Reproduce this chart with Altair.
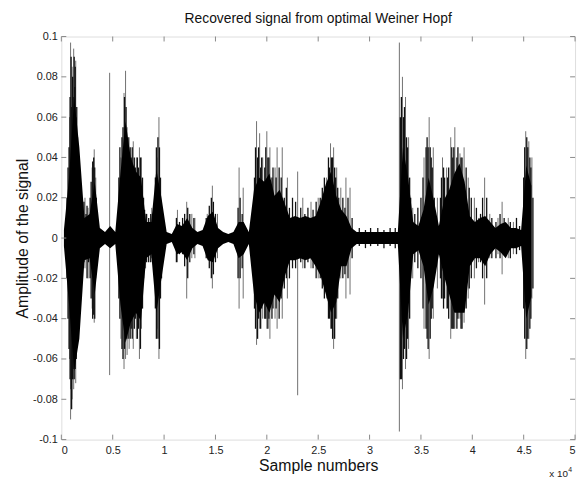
import altair as alt
import pandas as pd

# ---- data (samples, amplitude) ----
bin_start = [k * 500 for k in range(92)]
core_hi = [0.004, 0.03, 0.07, 0.045, 0.01, 0.012, 0.028, 0.005, 0.003, 0.006,
           0.003, 0.032, 0.058, 0.04, 0.033, 0.03, 0.008, 0.008, 0.034, 0.02,
           0.003, 0.002, 0.007, 0.006, 0.01, 0.005, 0.003, 0.004, 0.011, 0.013,
           0.005, 0.003, 0.002, 0.003, 0.008, 0.008, 0.003, 0.024, 0.03, 0.028,
           0.032, 0.021, 0.024, 0.017, 0.01, 0.011, 0.01, 0.011, 0.01, 0.011,
           0.018, 0.027, 0.033, 0.021, 0.014, 0.011, 0.005, 0.003, 0.003, 0.003,
           0.003, 0.003, 0.003, 0.003, 0.003, 0.003, 0.045, 0.03, 0.008, 0.006,
           0.014, 0.03, 0.019, 0.006, 0.019, 0.024, 0.032, 0.037, 0.028, 0.011,
           0.008, 0.01, 0.011, 0.008, 0.005, 0.007, 0.008, 0.005, 0.005, 0.004,
           0.036, 0.026]
core_lo = [-0.004, -0.033, -0.066, -0.05, -0.011, -0.01, -0.028, -0.005, -0.003, -0.005,
           -0.003, -0.033, -0.052, -0.042, -0.037, -0.041, -0.01, -0.008, -0.037, -0.02,
           -0.003, -0.002, -0.008, -0.007, -0.011, -0.005, -0.003, -0.004, -0.011, -0.012,
           -0.005, -0.003, -0.002, -0.003, -0.01, -0.008, -0.003, -0.028, -0.037, -0.032,
           -0.037, -0.028, -0.032, -0.019, -0.011, -0.011, -0.01, -0.011, -0.01, -0.014,
           -0.019, -0.028, -0.037, -0.032, -0.014, -0.014, -0.005, -0.003, -0.003, -0.003,
           -0.003, -0.003, -0.003, -0.003, -0.003, -0.003, -0.05, -0.037, -0.008, -0.006,
           -0.014, -0.033, -0.024, -0.008, -0.019, -0.028, -0.037, -0.037, -0.037, -0.014,
           -0.01, -0.01, -0.014, -0.008, -0.005, -0.007, -0.01, -0.005, -0.005, -0.004,
           -0.04, -0.029]

# light (grey) outer peaks
spike_x = [800, 900, 1050, 1200, 1400, 1600, 1700, 2300, 2600, 3000, 3200, 3350,
           4700, 5800, 6100, 6250, 6400, 6600, 7000, 7300, 7600, 7800, 8200, 8800,
           9300, 9500, 11300, 12200, 12700, 13000, 14200, 14700, 15200, 17300, 17700,
           19000, 19300, 19600, 20000, 20300, 20800, 21000, 21500, 22000, 23000,
           23500, 24300, 25000, 25800, 26200, 26500, 26800, 27200, 27700, 28100,
           32900, 33200, 33500, 33800, 34200, 35300, 35800, 36200, 36600, 37100,
           37500, 37900, 38300, 38800, 39200, 39600, 40200, 40600, 41200, 41700,
           42500, 42900, 43500, 44000, 45200, 45500, 45800]
spike_hi = [0.06, 0.097, 0.085, 0.094, 0.088, 0.05, 0.03, 0.02, 0.015, 0.035, 0.044, 0.03,
            0.082, 0.04, 0.072, 0.083, 0.055, 0.05, 0.048, 0.04, 0.045, 0.04, 0.012, 0.015,
            0.04, 0.06, 0.014, 0.018, 0.012, 0.01, 0.012, 0.026, 0.012, 0.035, 0.025,
            0.058, 0.052, 0.04, 0.053, 0.045, 0.035, 0.045, 0.045, 0.03, 0.033,
            0.02, 0.018, 0.02, 0.03, 0.047, 0.045, 0.035, 0.025, 0.03, 0.025,
            0.097, 0.08, 0.07, 0.05, 0.015, 0.04, 0.06, 0.045, 0.02, 0.04,
            0.035, 0.05, 0.055, 0.042, 0.045, 0.03, 0.02, 0.01, 0.03, 0.012,
            0.01, 0.018, 0.01, 0.008, 0.053, 0.048, 0.04]
spike_lo = [-0.06, -0.09, -0.08, -0.075, -0.072, -0.05, -0.04, -0.015, -0.02, -0.035, -0.042, -0.02,
            -0.068, -0.05, -0.065, -0.06, -0.058, -0.055, -0.055, -0.05, -0.06, -0.045, -0.015, -0.01,
            -0.045, -0.06, -0.012, -0.03, -0.01, -0.01, -0.01, -0.025, -0.01, -0.035, -0.03,
            -0.053, -0.045, -0.04, -0.045, -0.05, -0.04, -0.045, -0.04, -0.03, -0.078,
            -0.015, -0.015, -0.02, -0.03, -0.045, -0.055, -0.04, -0.02, -0.03, -0.028,
            -0.096, -0.075, -0.065, -0.055, -0.02, -0.045, -0.06, -0.04, -0.025, -0.03,
            -0.035, -0.05, -0.045, -0.04, -0.042, -0.03, -0.02, -0.012, -0.033, -0.01,
            -0.008, -0.018, -0.01, -0.008, -0.06, -0.05, -0.03]

# dark (black) inner peaks
dark_x = [550, 650, 750, 850, 950, 1000, 1100, 1150, 1250, 1300, 1350, 1450, 1500, 1550, 1650,
          1750, 1850, 1950, 2100, 2200, 2400, 2500, 2650, 2800, 2900, 3050, 3150, 3250, 3400,
          5600, 5700, 5900, 6000, 6150, 6300, 6500, 6700, 6800, 6900, 7100, 7200, 7400, 7500,
          7700, 7900, 8000, 8100, 8300, 8500, 8700, 9150, 9250, 9400, 9550, 9650, 9750,
          11200, 11500, 11800, 12000, 12300, 12500, 12900, 14100, 14400, 14600, 14800, 15000,
          17200, 17400, 17600, 18800, 18900, 19100, 19200, 19400, 19500, 19800, 19900, 20100,
          20200, 20500, 20600, 20900, 21200, 21400, 21700, 21900, 22200, 22500, 22800, 23300,
          23700, 24000, 24500, 24800, 25200, 25400, 25600, 26000, 26100, 26300, 26400, 26600,
          26700, 26900, 27000, 27400, 27600, 27900, 28300, 29000, 29600, 30100, 30800, 31400,
          32000, 32500, 33000, 33100, 33300, 33400, 33600, 33700, 33900, 34000, 34400, 34700,
          35000, 35200, 35500, 35600, 35700, 35900, 36000, 36100, 36300, 36900, 37000, 37200,
          37300, 37600, 37700, 38000, 38100, 38200, 38500, 38600, 38900, 39000, 39400, 39700,
          39900, 40400, 40800, 41000, 41400, 41900, 42300, 42700, 43100, 43700, 44300, 44600,
          45000, 45100, 45300, 45400, 45600, 45700, 45900]
dark_hi = [0.02, 0.035, 0.045, 0.07, 0.09, 0.065, 0.08, 0.07, 0.09, 0.075, 0.085, 0.06, 0.065, 0.045, 0.035,
           0.03, 0.02, 0.015, 0.012, 0.018, 0.012, 0.016, 0.01, 0.02, 0.028, 0.038, 0.04, 0.035, 0.02,
           0.03, 0.045, 0.05, 0.055, 0.07, 0.065, 0.05, 0.045, 0.04, 0.045, 0.04, 0.035, 0.04, 0.035,
           0.04, 0.03, 0.02, 0.014, 0.012, 0.01, 0.012, 0.03, 0.045, 0.05, 0.045, 0.03, 0.015,
           0.01, 0.008, 0.01, 0.012, 0.015, 0.012, 0.01, 0.01, 0.016, 0.02, 0.018, 0.012,
           0.015, 0.02, 0.012, 0.03, 0.045, 0.04, 0.045, 0.035, 0.04, 0.035, 0.045, 0.04,
           0.04, 0.03, 0.035, 0.03, 0.035, 0.03, 0.02, 0.025, 0.015, 0.02, 0.018, 0.015,
           0.012, 0.015, 0.014, 0.018, 0.02, 0.025, 0.03, 0.04, 0.035, 0.04, 0.04, 0.035,
           0.03, 0.025, 0.02, 0.02, 0.015, 0.02, 0.01, 0.005, 0.004, 0.005, 0.005, 0.004,
           0.005, 0.005, 0.06, 0.07, 0.06, 0.065, 0.05, 0.045, 0.03, 0.02, 0.012, 0.015,
           0.02, 0.03, 0.045, 0.05, 0.045, 0.045, 0.04, 0.035, 0.02, 0.02, 0.03, 0.035,
           0.03, 0.03, 0.035, 0.045, 0.04, 0.045, 0.04, 0.045, 0.04, 0.04, 0.035, 0.025,
           0.02, 0.015, 0.012, 0.02, 0.02, 0.01, 0.008, 0.012, 0.01, 0.008, 0.01, 0.006,
           0.03, 0.045, 0.05, 0.045, 0.04, 0.035, 0.02]
dark_lo = [-0.02, -0.04, -0.055, -0.07, -0.075, -0.085, -0.07, -0.065, -0.07, -0.06, -0.065, -0.06, -0.05, -0.045, -0.035,
           -0.03, -0.02, -0.015, -0.01, -0.012, -0.01, -0.02, -0.012, -0.02, -0.03, -0.04, -0.038, -0.04, -0.018,
           -0.03, -0.04, -0.055, -0.06, -0.055, -0.05, -0.05, -0.05, -0.045, -0.05, -0.045, -0.04, -0.05, -0.045,
           -0.055, -0.035, -0.02, -0.015, -0.012, -0.012, -0.012, -0.035, -0.05, -0.05, -0.055, -0.03, -0.02,
           -0.012, -0.008, -0.008, -0.014, -0.02, -0.012, -0.008, -0.01, -0.015, -0.02, -0.018, -0.012,
           -0.02, -0.02, -0.015, -0.035, -0.045, -0.05, -0.04, -0.045, -0.035, -0.04, -0.04, -0.045,
           -0.04, -0.04, -0.035, -0.035, -0.04, -0.03, -0.025, -0.02, -0.02, -0.015, -0.015, -0.012,
           -0.015, -0.012, -0.015, -0.02, -0.02, -0.025, -0.03, -0.04, -0.04, -0.045, -0.05, -0.05,
           -0.04, -0.03, -0.02, -0.02, -0.018, -0.02, -0.01, -0.004, -0.005, -0.004, -0.004, -0.005,
           -0.004, -0.005, -0.07, -0.07, -0.06, -0.055, -0.06, -0.05, -0.04, -0.02, -0.012, -0.015,
           -0.02, -0.035, -0.045, -0.05, -0.055, -0.05, -0.04, -0.035, -0.02, -0.02, -0.03, -0.035,
           -0.03, -0.035, -0.04, -0.045, -0.045, -0.045, -0.045, -0.04, -0.045, -0.045, -0.035, -0.025,
           -0.02, -0.015, -0.012, -0.02, -0.02, -0.01, -0.01, -0.01, -0.008, -0.01, -0.008, -0.006,
           -0.035, -0.05, -0.055, -0.05, -0.045, -0.04, -0.025]

x_ticks = [0, 5000, 10000, 15000, 20000, 25000, 30000, 35000, 40000, 45000, 50000]
y_ticks = [-0.1, -0.08, -0.06, -0.04, -0.02, 0.0, 0.02, 0.04, 0.06, 0.08, 0.1]

W, H = 520, 408
FONT = "Liberation Sans"

core = pd.DataFrame({"x": [s + 250 for s in bin_start], "hi": core_hi, "lo": core_lo})
spikes = pd.DataFrame({"x": spike_x, "hi": spike_hi, "lo": spike_lo})
dark = pd.DataFrame({"x": dark_x, "hi": dark_hi, "lo": dark_lo})
xt = pd.DataFrame({"t": x_ticks})
yt = pd.DataFrame({"t": y_ticks})

xscale = alt.Scale(domain=[0, 50000], nice=False, zero=False)
yscale = alt.Scale(domain=[-0.1, 0.1], nice=False)

x_axis = alt.Axis(values=x_ticks, grid=False, domain=False, ticks=False,
                  labelExpr="format(datum.value/10000, '.1~f')",
                  labelFont=FONT, labelFontSize=11, labelColor="#222", labelPadding=5,
                  title="Sample numbers", titleFont=FONT, titleFontSize=16,
                  titleFontWeight="normal", titleColor="#111", titlePadding=2)
y_axis = alt.Axis(values=y_ticks, grid=False, domain=False, ticks=False,
                  labelExpr="replace(format(datum.value, '.2~f'), '\u2212', '-')",
                  labelFont=FONT, labelFontSize=11, labelColor="#222", labelPadding=4,
                  title="Amplitude of the signal", titleFont=FONT, titleFontSize=16,
                  titleFontWeight="normal", titleColor="#111", titlePadding=2)

spk = alt.Chart(spikes).mark_rule(color="#707070", strokeWidth=1).encode(
    x=alt.X("x:Q", scale=xscale, axis=x_axis),
    y=alt.Y("hi:Q", scale=yscale, axis=y_axis),
    y2="lo:Q",
)
drk = alt.Chart(dark).mark_rule(color="#111", strokeWidth=1.3).encode(
    x=alt.X("x:Q", scale=xscale),
    y=alt.Y("hi:Q", scale=yscale),
    y2="lo:Q",
)
area = alt.Chart(core).mark_area(color="black", interpolate="linear").encode(
    x=alt.X("x:Q", scale=xscale),
    y=alt.Y("hi:Q", scale=yscale),
    y2="lo:Q",
)

tick_color = "#888"
xt_bot = alt.Chart(xt).mark_rule(color=tick_color).encode(
    x=alt.X("t:Q", scale=xscale), y=alt.value(H), y2=alt.value(H - 5))
xt_top = alt.Chart(xt).mark_rule(color=tick_color).encode(
    x=alt.X("t:Q", scale=xscale), y=alt.value(0), y2=alt.value(5))
yt_l = alt.Chart(yt).mark_rule(color=tick_color).encode(
    y=alt.Y("t:Q", scale=yscale), x=alt.value(0), x2=alt.value(5))
yt_r = alt.Chart(yt).mark_rule(color=tick_color).encode(
    y=alt.Y("t:Q", scale=yscale), x=alt.value(W), x2=alt.value(W - 5))

exp_txt = alt.Chart(pd.DataFrame({"s": ["x 10"]})).mark_text(
    font=FONT, fontSize=10, color="#222", align="left", baseline="middle").encode(
    text="s:N", x=alt.value(494), y=alt.value(H + 35))
exp_pow = alt.Chart(pd.DataFrame({"s": ["4"]})).mark_text(
    font=FONT, fontSize=7, color="#222", align="left", baseline="middle").encode(
    text="s:N", x=alt.value(513), y=alt.value(H + 31))

chart = alt.layer(spk, drk, area, xt_bot, xt_top, yt_l, yt_r, exp_txt, exp_pow).properties(
    width=W, height=H,
    title=alt.TitleParams("Recovered signal from optimal Weiner Hopf", font=FONT,
                          fontSize=14, fontWeight="normal", color="#111", offset=5),
    autosize=alt.AutoSizeParams(type="none"),
    padding={"left": 54, "top": 26, "right": 4, "bottom": 36},
).configure_view(stroke="#888", strokeWidth=1).configure(background="white")

chart.save("out.html", embed_options={"renderer": "svg", "actions": False})
